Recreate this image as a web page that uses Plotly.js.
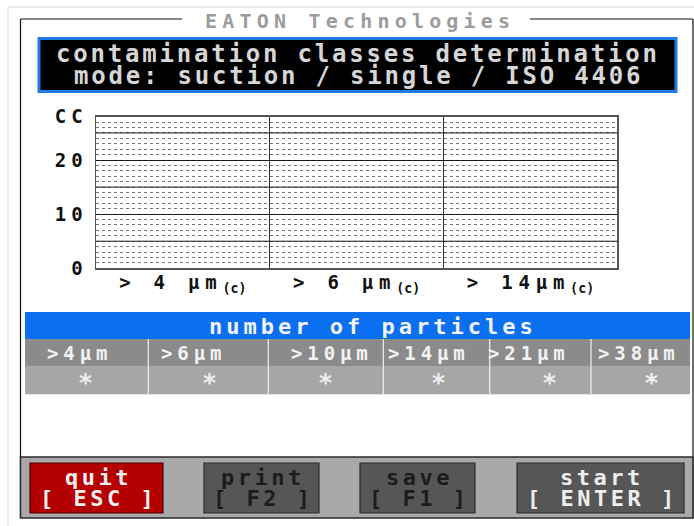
<!DOCTYPE html>
<html><head><meta charset="utf-8">
<script src="https://cdn.plot.ly/plotly-3.0.1.min.js"></script>
<style>html,body{margin:0;padding:0;background:#fff;overflow:hidden}</style>
</head><body><div id="chart" style="width:694px;height:526px"></div>
<script>
// ---- data ----
const brandTitle = 'EATON Technologies';
const headerLines = ['contamination classes determination', 'mode: suction / single / ISO 4406'];
const ccCategories = ['&gt; 4 μm', '&gt; 6 μm', '&gt; 14μm'];
const ccUnitSuffix = '(c)';
const ccValues = [null, null, null];
const yTickVals = [0, 10, 20, 28];
const yTickText = ['0', '10', '20', 'CC'];
const yMidGrid = [5, 15, 25];
const tableTitle = 'number of particles';
const particleSizes = ['&gt;4μm', '&gt;6μm', '&gt;10μm', '&gt;14μm', '&gt;21μm', '&gt;38μm'];
const particleCounts = ['*', '*', '*', '*', '*', '*'];
const buttonNames = ['quit', 'print', 'save', 'start'];
const buttonKeys = ['[ ESC ]', '[ F2 ]', '[ F1 ]', '[ ENTER ]'];

// ---- layout helpers (page pixels -> paper) ----
const W = 694, H = 526;
const px = x => x / W;
const py = y => 1 - y / H;
const F = 'DejaVu Sans Mono';
const sp = (t, ls) => `<span style="letter-spacing:${ls}px">${t}</span>`;

function ann(text, x, y, size, color, ls, extra) {
  return Object.assign({
    xref: 'paper', yref: 'paper', x: px(x + ls / 2), y: py(y),
    xanchor: 'center', yanchor: 'middle', showarrow: false,
    text: sp(text, ls), font: {family: F, size: size, color: color, weight: 'bold'}
  }, extra || {});
}
function rect(x0, y0, x1, y1, fill, lc, lw) {
  return {type: 'rect', xref: 'paper', yref: 'paper', x0: px(x0), x1: px(x1), y0: py(y1), y1: py(y0),
    fillcolor: fill, line: {color: lc, width: lw}};
}
function line(x0, y0, x1, y1, c, w) {
  return {type: 'line', xref: 'paper', yref: 'paper', x0: px(x0), x1: px(x1), y0: py(y0), y1: py(y1),
    line: {color: c, width: w}};
}

const plotL = 96, plotR = 617.3;
const shapes = [
  line(8, 7, 700, 7, '#d4d4d4', 1),
  line(8, 7, 8, 530, '#d4d4d4', 1),
  line(20.5, 19, 182, 19, '#111', 1.2),
  line(530, 19, 693, 19, '#111', 1.2),
  line(20.5, 19, 20.5, 518, '#111', 1.2),
  line(693, 19, 693, 518, '#111', 1.2),
  rect(39, 38.5, 676, 91.5, '#000', '#1e7ae6', 3),
  rect(25, 312, 690, 339, '#0b6ff2', 'rgba(0,0,0,0)', 0),
  rect(25, 339, 690, 366, '#8b8b8b', 'rgba(0,0,0,0)', 0),
  rect(25, 366, 690, 394, '#a6a6a6', 'rgba(0,0,0,0)', 0),
  line(25, 394.5, 690, 394.5, '#e6e6e6', 1),
  rect(20.5, 457, 693, 518, '#a9a9a9', '#2a2a2a', 1.5)
];
// solid grid lines between the labelled ticks (on the y scale)
yMidGrid.forEach(v => shapes.push({type: 'line', xref: 'paper', yref: 'y',
  x0: px(plotL), x1: px(plotR), y0: v, y1: v, line: {color: '#1a1a1a', width: 1}}));

// table column edges (page px) and text centres
const colEdges = [25, 148.3, 268.3, 383.3, 489.7, 591, 690];
const labelCx = [77.5, 191, 330, 427, 527, 637];
const countCx = [85, 210, 325, 438, 549, 651];
colEdges.slice(1, -1).forEach(x => shapes.push(line(x, 339, x, 394, '#f0f0f0', 1.2)));

const btnBoxes = [[30, 163], [204, 319], [360, 475], [517, 684]];
const btnFill = ['#b40000', '#565656', '#565656', '#565656'];
const btnLine = ['#4a0000', '#2c2c2c', '#2c2c2c', '#2c2c2c'];
const btnText = ['#f2f2f2', '#1c1c1c', '#1c1c1c', '#eeeeee'];
btnBoxes.forEach((b, i) => shapes.push(rect(b[0], 463, b[1], 513, btnFill[i], btnLine[i], 1.2)));

const annotations = [
  ann(brandTitle, 357, 21, 20, '#9c9c9c', 5.2),
  ann(headerLines[0], 357, 54, 24, '#d6d6d6', 2.8),
  ann(headerLines[1], 357, 76, 24, '#d6d6d6', 2.8),
  ann(tableTitle, 371, 326, 22, '#f4f4f4', 4.0)
];
particleSizes.forEach((s, i) => annotations.push(ann(s, labelCx[i], 353, 19, '#f2f2f2', 4.9)));
particleCounts.forEach((v, i) => annotations.push(ann(v, countCx[i], 382, 25, '#eeeeee', 0)));
btnBoxes.forEach((b, i) => {
  const cx = (b[0] + b[1]) / 2;
  annotations.push(ann(buttonNames[i], cx, 477, 22, btnText[i], 3.5));
  annotations.push(ann(buttonKeys[i], cx, 498.5, 22, btnText[i], 3.5));
});

const barTrace = {
  type: 'bar', x: [0, 1, 2], y: ccValues, marker: {color: '#333'},
  hoverinfo: 'skip', showlegend: false
};

const layout = {
  width: W, height: H,
  margin: {l: 0, r: 0, t: 0, b: 0},
  paper_bgcolor: '#fff', plot_bgcolor: '#fff',
  showlegend: false,
  xaxis: {
    domain: [px(plotL), px(plotR)], range: [-0.5, 2.5], fixedrange: true,
    tickmode: 'array', tickvals: [0, 1, 2],
    ticktext: ccCategories.map(c => sp(c, 5.8) + '<sub>' + ccUnitSuffix + '</sub>'),
    tickfont: {family: F, size: 19, color: '#111', weight: 'bold'},
    showgrid: false, zeroline: false,
    showline: true, mirror: true, linecolor: '#555', linewidth: 1.5,
    ticks: '', ticklabelstandoff: -4,
    minor: {tickmode: 'array', tickvals: [0.5, 1.5], showgrid: true, gridcolor: '#333', gridwidth: 1, ticks: ''}
  },
  yaxis: {
    domain: [py(268.3), py(116.7)], range: [0, 28], fixedrange: true,
    tickmode: 'array', tickvals: yTickVals, ticktext: yTickText.map(t => sp(t, 5)),
    tickfont: {family: F, size: 19, color: '#111', weight: 'bold'},
    showgrid: true, gridcolor: '#1a1a1a', gridwidth: 1, zeroline: false,
    showline: true, mirror: true, linecolor: '#555', linewidth: 1.5,
    ticks: 'outside', ticklen: 3, tickcolor: 'rgba(0,0,0,0)',
    minor: {tickmode: 'linear', tick0: 0, dtick: 1, showgrid: true, gridcolor: '#777', griddash: 'dot', gridwidth: 1, ticks: ''}
  },
  shapes: shapes,
  annotations: annotations
};

Plotly.newPlot('chart', [barTrace], layout, {staticPlot: true, displayModeBar: false});
</script></body></html>
